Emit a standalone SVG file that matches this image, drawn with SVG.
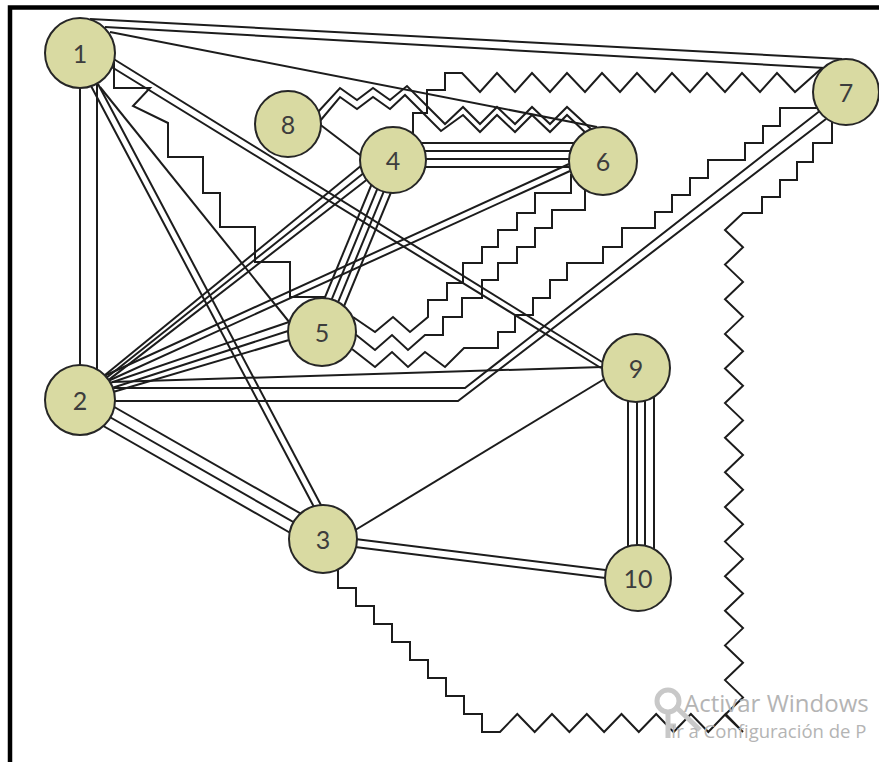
<svg xmlns="http://www.w3.org/2000/svg" width="879" height="762" viewBox="0 0 879 762">
  <style>
    .ln { stroke: #1c1c1c; stroke-width: 2; fill: none; stroke-linejoin: miter; }
    .node circle { fill: #d9daa2; stroke: #262626; stroke-width: 2; }
    .node text { font-family: Lato, "Open Sans", sans-serif; font-size: 25px; fill: #3d3d3d; text-anchor: middle; dominant-baseline: central; }
    .wm { font-family: "Open Sans", "Noto Sans", sans-serif; fill: #b4b4b4; }
  </style>
  <rect width="879" height="762" fill="#ffffff"/>
  <!-- frame -->
  <path d="M10,762 V7.5 H879" fill="none" stroke="#000" stroke-width="4.5"/>

  <g id="connectors" class="ln">
    <!-- 1 - 7 -->
    <line x1="90" y1="19" x2="842" y2="59"/>
    <line x1="105" y1="27" x2="825" y2="68"/>
    <!-- 1 - 6 -->
    <line x1="110" y1="32" x2="597" y2="127"/>
    <!-- 1 - 9 -->
    <line x1="112" y1="58" x2="602" y2="362"/>
    <line x1="110" y1="66" x2="601" y2="368"/>
    <!-- 1 - 2 -->
    <line x1="80" y1="53" x2="80" y2="400"/>
    <line x1="97" y1="80" x2="97" y2="372"/>
    <!-- 1 - 3 -->
    <line x1="90" y1="84" x2="314" y2="507"/>
    <line x1="98" y1="84" x2="322" y2="507"/>
    <!-- 1 - 5 -->
    <line x1="100" y1="87" x2="290" y2="323"/>
    <!-- 1 - 5 stepped -->
    <path d="M114,62 V88 H150 L133,106 L168,123 V157 H203 V193 H220 V227 H255 V262 H290 V297 H326"/>
    <!-- 2 - 4 -->
    <line x1="104.7" y1="375.3" x2="362" y2="165"/>
    <line x1="106.8" y1="377.5" x2="365" y2="172"/>
    <line x1="108.7" y1="379.9" x2="369" y2="178"/>
    <!-- 2 - 6 -->
    <line x1="104" y1="376" x2="569" y2="164"/>
    <line x1="108" y1="381" x2="570" y2="171"/>
    <!-- 2 - 5 -->
    <line x1="110" y1="383" x2="289" y2="322"/>
    <line x1="112" y1="388" x2="288" y2="331"/>
    <line x1="113" y1="392" x2="289" y2="340"/>
    <!-- 2 - 9 -->
    <line x1="112" y1="382" x2="602" y2="367"/>
    <!-- 2 - 7 -->
    <path d="M110,388 H465 L821,110"/>
    <path d="M110,401 H458 L826,119"/>
    <!-- 2 - 3 -->
    <line x1="85.5" y1="390.5" x2="328.5" y2="529.5"/>
    <line x1="80" y1="400" x2="323" y2="539"/>
    <line x1="74.5" y1="409.5" x2="317.5" y2="548.5"/>
    <!-- 3 - 9 -->
    <line x1="352" y1="532" x2="606" y2="378"/>
    <!-- 3 - 10 -->
    <line x1="323" y1="535" x2="638" y2="574"/>
    <line x1="323" y1="543" x2="638" y2="582"/>
    <!-- 9 - 10 -->
    <line x1="628" y1="380" x2="628" y2="570"/>
    <line x1="637" y1="380" x2="637" y2="570"/>
    <line x1="645" y1="380" x2="645" y2="570"/>
    <line x1="654" y1="380" x2="654" y2="570"/>
    <!-- 4 - 6 -->
    <line x1="400" y1="143" x2="600" y2="143"/>
    <line x1="400" y1="151" x2="600" y2="151"/>
    <line x1="400" y1="159" x2="600" y2="159"/>
    <line x1="400" y1="167" x2="600" y2="167"/>
    <!-- 4 - 5 -->
    <line x1="402.7" y1="164" x2="331.7" y2="336"/>
    <line x1="396.2" y1="161.3" x2="325.2" y2="333.3"/>
    <line x1="389.8" y1="158.7" x2="318.8" y2="330.7"/>
    <line x1="383.3" y1="156" x2="312.3" y2="328"/>
    <!-- 8 - 4 -->
    <line x1="318" y1="123" x2="364" y2="158"/>
    <!-- 8 - 6 -->
    <path d="M318,112 L340,88 L357,100 L373,88 L390,100 L407,86 L445,124 L463,107 L480,124 L497,107 L515,124 L532,107 L550,124 L567,107 L592,130"/>
    <path d="M320,121 L340,97 L357,109 L373,97 L390,109 L405,95 L441,131 L463,115 L480,132 L497,115 L515,132 L532,115 L550,132 L567,115 L590,137"/>
    <!-- 4 - 7 -->
    <path d="M413,138 V113 H427 V90 H445 V73 H462 L480,92 L497,73 L515,92 L532,73 L550,92 L567,73 L585,92 L602,73 L620,92 L637,73 L655,92 L672,73 L690,92 L707,73 L725,92 L742,73 L760,92 L777,73 L795,92 L822,68"/>
    <!-- 6 - 5 -->
    <path d="M571,174 V193 H535 V213 H517 V230 H498 V247 H482 V263 H463 V283 H447 V300 H428 V317 L410,332 L393,317 L375,332 L353,317"/>
    <path d="M585,188 V210 H552 V228 H535 V247 H517 V263 H498 V280 H482 V298 H462 V317 H443 V335 H425 L408,350 L392,335 L375,350 L355,334"/>
    <!-- 7 - 5 -->
    <path d="M818,108 H780 V126 H763 V143 H745 V160 H708 V178 H690 V195 H672 V212 H655 V228 H622 V247 H603 V263 H567 V280 H550 V298 H533 V315 H515 V332 H498 V348 H464 L445,367 L425,352 L408,367 L392,352 L375,367 L352,349"/>
    <!-- 7 - 3 -->
    <path d="M832,118 V143 H813 V162 H797 V180 H780 V197 H762 V213 H743 L725,230 L743,247.3 L725,264.6 L743,281.9 L725,299.2 L743,316.6 L725,333.9 L743,351.2 L725,368.5 L743,385.8 L725,403.1 L743,420.4 L725,437.7 L743,455 L725,472.3 L743,489.7 L725,507 L743,524.3 L725,541.6 L743,558.9 L725,576.2 L743,593.5 L725,610.8 L743,628.1 L725,645.4 L743,662.8 L725,680.1 L743,697.4 L725,714.7 L743,732 L725.6,714 L708.3,732 L690.9,714 L673.6,732 L656.2,714 L638.8,732 L621.5,714 L604.1,732 L586.8,714 L569.4,732 L552,714 L534.7,732 L517.3,714 L500,732 H482 V714 H464 V696 H446 V678 H428 V660 H410 V642 H392 V624 H374 V606 H356 V588 H338 V566"/>
  </g>

  <g id="node-1" class="node"><circle cx="80" cy="53" r="35"/><text x="80" y="53">1</text></g>
  <g id="node-2" class="node"><circle cx="80" cy="400" r="35"/><text x="80" y="400">2</text></g>
  <g id="node-3" class="node"><circle cx="323" cy="539" r="34"/><text x="323" y="539">3</text></g>
  <g id="node-4" class="node"><circle cx="393" cy="160" r="33"/><text x="393" y="160">4</text></g>
  <g id="node-5" class="node"><circle cx="322" cy="332" r="34"/><text x="322" y="332">5</text></g>
  <g id="node-6" class="node"><circle cx="603" cy="161" r="34"/><text x="603" y="161">6</text></g>
  <g id="node-7" class="node"><circle cx="846" cy="92" r="33"/><text x="846" y="92">7</text></g>
  <g id="node-8" class="node"><circle cx="288" cy="124" r="33"/><text x="288" y="124">8</text></g>
  <g id="node-9" class="node"><circle cx="636" cy="368" r="34"/><text x="636" y="368">9</text></g>
  <g id="node-10" class="node"><circle cx="638" cy="578" r="33"/><text x="638" y="578">10</text></g>

  <!-- system notice overlay -->
  <g id="notice">
    <circle cx="668" cy="701" r="11" fill="none" stroke="#c8c8c8" stroke-width="5"/>
    <path d="M668,712 V738 M668,726 H676 M675,706 L700,730" fill="none" stroke="#c8c8c8" stroke-width="5"/>
    <text class="wm" x="684" y="712" font-size="24">Activar Windows</text>
    <text class="wm" x="671" y="738" font-size="18.5">Ir a Configuración de P</text>
  </g>
</svg>
